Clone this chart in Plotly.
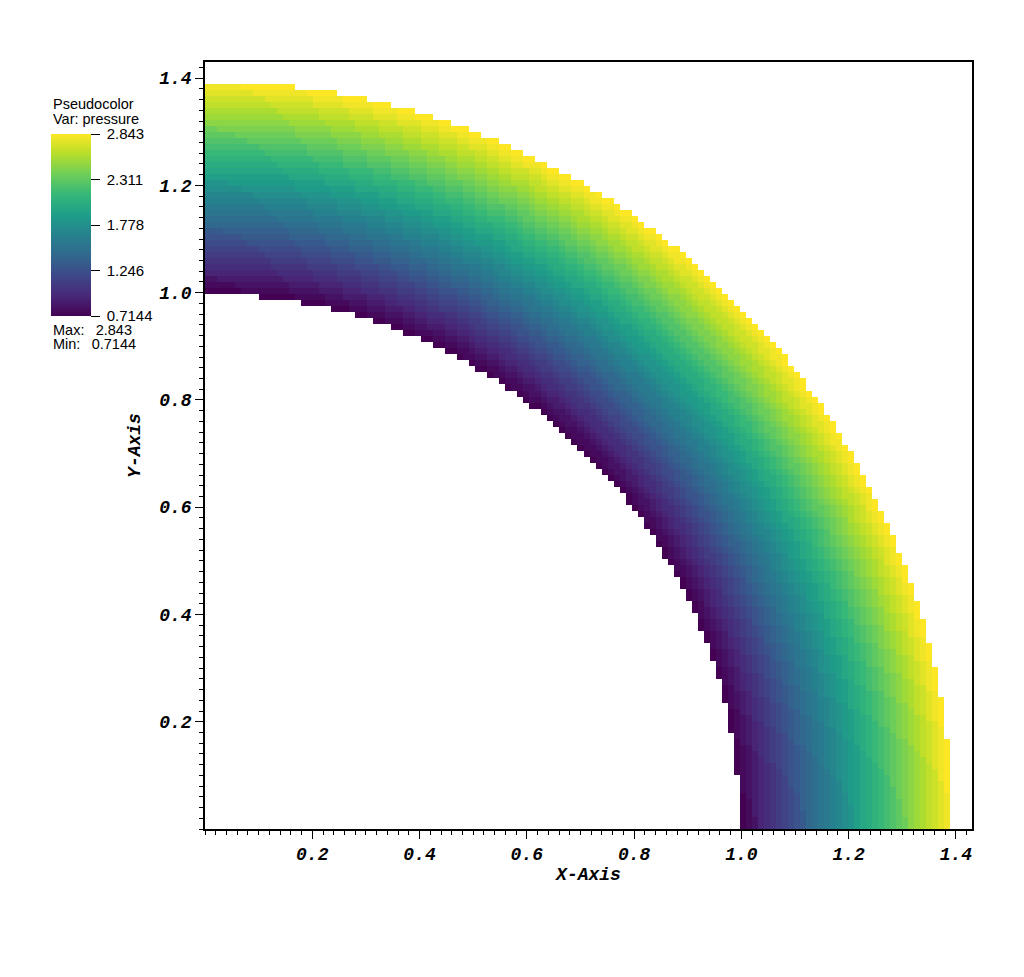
import numpy as np
import plotly.graph_objects as go

# radial pressure profile
radius = [1.00, 1.01, 1.02, 1.03, 1.04, 1.05, 1.06, 1.07, 1.08, 1.09,
          1.10, 1.11, 1.12, 1.13, 1.14, 1.15, 1.16, 1.17, 1.18, 1.19,
          1.20, 1.21, 1.22, 1.23, 1.24, 1.25, 1.26, 1.27, 1.28, 1.29,
          1.30, 1.31, 1.32, 1.33, 1.34, 1.35, 1.36, 1.37, 1.38, 1.39]
pressure = [0.7144, 0.77, 0.82, 0.88, 0.93, 0.99, 1.04, 1.10, 1.15, 1.21,
            1.26, 1.32, 1.37, 1.43, 1.48, 1.54, 1.59, 1.65, 1.70, 1.76,
            1.81, 1.87, 1.92, 1.98, 2.03, 2.09, 2.14, 2.20, 2.25, 2.31,
            2.36, 2.42, 2.47, 2.53, 2.58, 2.64, 2.69, 2.75, 2.80, 2.843]

cbar_ticks = [0.7144, 1.246, 1.778, 2.311, 2.843]
cbar_labels = ["0.7144", "1.246", "1.778", "2.311", "2.843"]
axis_ticks = [0.2, 0.4, 0.6, 0.8, 1.0, 1.2, 1.4]
axis_labels = ["0.2", "0.4", "0.6", "0.8", "1.0", "1.2", "1.4"]

# rectilinear mesh, cells kept inside the annulus
N_CELLS = 125
CELL = 0.0112
R_IN = 0.9963
R_OUT = 1.3935

centres = (np.arange(N_CELLS) + 0.5) * CELL
X, Y = np.meshgrid(centres, centres)
R = np.hypot(X, Y)
band = np.abs(R[..., None] - np.array(radius)).argmin(axis=-1)
Z = np.array(pressure)[band]
Z[(R < R_IN) | (R > R_OUT)] = np.nan

# plot area on screen (page body adds an 8px margin)
PAGE_PAD = 8
L, T, W, H = 205, 62, 767, 767
FIG_W, FIG_H = 1024 - 2 * PAGE_PAD, 977 - 2 * PAGE_PAD


def px_x(px):
    return (px - L) / W


def px_y(py):
    return (T + H - py) / H


fig = go.Figure(
    go.Heatmap(
        x=centres,
        y=centres,
        z=Z,
        colorscale="Viridis",
        zmin=0.7144,
        zmax=2.843,
        hoverinfo="skip",
        colorbar=dict(
            x=px_x(51),
            xanchor="left",
            y=px_y(134),
            yanchor="top",
            thickness=40,
            thicknessmode="pixels",
            len=182,
            lenmode="pixels",
            xpad=0,
            ypad=0,
            outlinewidth=0,
            ticks="outside",
            ticklen=9,
            tickwidth=1,
            tickcolor="black",
            tickvals=cbar_ticks,
            ticktext=["\u00a0" + s for s in cbar_labels],
            tickfont=dict(family="Liberation Sans", size=15, color="black"),
        ),
    )
)

tick_font = dict(family="Liberation Mono", size=18, color="black",
                 weight="bold", style="italic")
axis_style = dict(
    range=[0, 1.43],
    automargin=False,
    showline=True,
    linecolor="black",
    linewidth=1.5,
    mirror=True,
    ticks="outside",
    ticklen=8,
    tickwidth=1,
    tickcolor="black",
    tickmode="array",
    tickvals=axis_ticks,
    ticktext=axis_labels,
    tickfont=tick_font,
    minor=dict(ticks="outside", ticklen=4, tickwidth=1, tickcolor="black",
               tickmode="linear", tick0=0, dtick=0.02, showgrid=False),
    showgrid=False,
    zeroline=False,
)
fig.update_xaxes(**axis_style, title=dict(text="X-Axis", font=tick_font, standoff=0))
fig.update_yaxes(**axis_style, title=dict(text="Y-Axis", font=tick_font, standoff=14))

label_font = dict(family="Liberation Sans", size=14.5, color="black")
for text, y in [("Pseudocolor", 104), ("Var: pressure", 119),
                ("Max:\u2002 2.843", 329.5), ("Min:\u2002 0.7144", 344)]:
    fig.add_annotation(text=text, xref="paper", yref="paper", x=px_x(51), y=px_y(y),
                       xanchor="left", yanchor="middle", showarrow=False,
                       font=label_font)

fig.update_layout(
    width=FIG_W,
    height=FIG_H,
    margin=dict(l=L - PAGE_PAD, r=FIG_W - (L - PAGE_PAD) - W,
                t=T - PAGE_PAD, b=FIG_H - (T - PAGE_PAD) - H,
                pad=0, autoexpand=False),
    paper_bgcolor="white",
    plot_bgcolor="white",
    showlegend=False,
)

fig.write_html("out.html")
